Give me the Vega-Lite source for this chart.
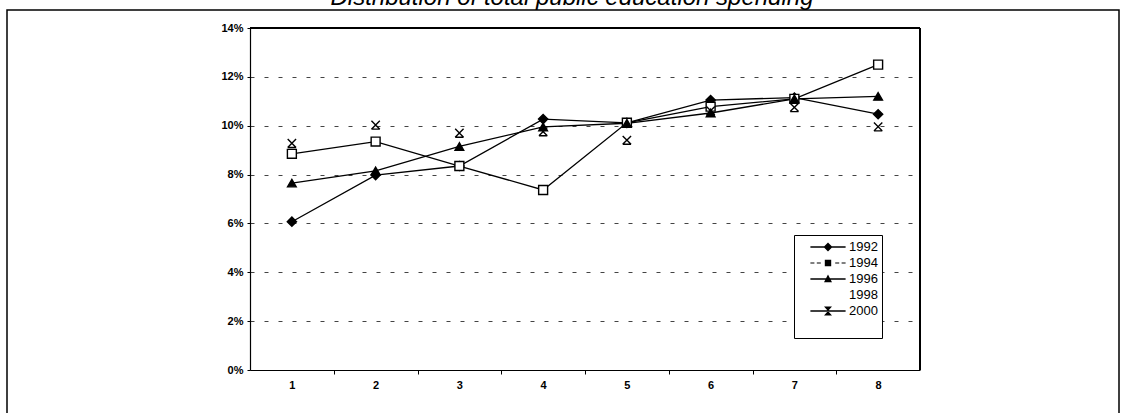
{
  "$schema": "https://vega.github.io/schema/vega-lite/v6.json",
  "width": 1112,
  "height": 415,
  "autosize": {"type": "none"},
  "padding": {"left": 7, "top": 10, "right": 6, "bottom": 0},
  "background": "white",
  "config": {"view": {"stroke": "black", "strokeWidth": 1.5, "fill": "white"}},
  "title": {"text": "Distribution of total public education spending", "font": "Liberation Sans", "fontSize": 24, "fontStyle": "italic", "fontWeight": "normal", "color": "black", "anchor": "middle", "baseline": "alphabetic", "offset": 3, "dx": 9, "dy": 22},
  "datasets": {
    "s": [
      {"year": "1992", "x": 1, "v": 0.0607}, {"year": "1992", "x": 2, "v": 0.0798}, {"year": "1992", "x": 3, "v": 0.0835}, {"year": "1992", "x": 4, "v": 0.1027},
      {"year": "1992", "x": 5, "v": 0.1012}, {"year": "1992", "x": 6, "v": 0.1105}, {"year": "1992", "x": 7, "v": 0.1115}, {"year": "1992", "x": 8, "v": 0.1047},
      {"year": "1994", "x": 1, "v": 0.0885}, {"year": "1994", "x": 2, "v": 0.0935}, {"year": "1994", "x": 3, "v": 0.0835}, {"year": "1994", "x": 4, "v": 0.0737},
      {"year": "1994", "x": 5, "v": 0.1012}, {"year": "1994", "x": 6, "v": 0.1078}, {"year": "1994", "x": 7, "v": 0.1110}, {"year": "1994", "x": 8, "v": 0.1250},
      {"year": "1996", "x": 1, "v": 0.0765}, {"year": "1996", "x": 2, "v": 0.0815}, {"year": "1996", "x": 3, "v": 0.0915}, {"year": "1996", "x": 4, "v": 0.0995},
      {"year": "1996", "x": 5, "v": 0.1010}, {"year": "1996", "x": 6, "v": 0.1052}, {"year": "1996", "x": 7, "v": 0.1110}, {"year": "1996", "x": 8, "v": 0.1120},
      {"year": "2000", "x": 1, "v": 0.0928}, {"year": "2000", "x": 2, "v": 0.1003}, {"year": "2000", "x": 3, "v": 0.0970}, {"year": "2000", "x": 4, "v": 0.0976},
      {"year": "2000", "x": 5, "v": 0.0941}, {"year": "2000", "x": 6, "v": 0.1062}, {"year": "2000", "x": 7, "v": 0.1075}, {"year": "2000", "x": 8, "v": 0.0996}
    ]
  },
  "data": {"name": "s"},
  "resolve": {"scale": {"shape": "independent"}, "axis": {"x": "independent"}},
  "layer": [
    {
      "mark": {"type": "rule", "color": "black", "strokeWidth": 1},
      "encoding": {
        "x": {"datum": 0.5, "type": "quantitative", "scale": {"domain": [0.5, 8.5], "range": [243, 913], "nice": false, "zero": false}, "axis": null},
        "x2": {"datum": 8.5},
        "y": {"datum": 0.14, "type": "quantitative", "scale": {"domain": [0, 0.14], "range": [360, 18], "nice": false, "zero": false}}
      }
    },
    {
      "mark": {"type": "rule", "color": "black", "strokeWidth": 1},
      "encoding": {
        "x": {"datum": 8.5, "type": "quantitative", "axis": {"orient": "bottom", "values": [1.5, 2.5, 3.5, 4.5, 5.5, 6.5, 7.5], "labels": false, "domain": false, "grid": false, "ticks": true, "tickSize": 4, "tickColor": "black", "tickWidth": 1, "title": null, "offset": -55}},
        "y": {"datum": 0, "type": "quantitative"},
        "y2": {"datum": 0.14}
      }
    },
    {
      "transform": [{"filter": "datum.year != '2000'"}],
      "mark": {"type": "line", "color": "black", "strokeWidth": 1.3},
      "encoding": {
        "x": {"field": "x", "type": "quantitative", "axis": {"orient": "bottom", "values": [1, 2, 3, 4, 5, 6, 7, 8], "format": "d", "title": null, "grid": false, "ticks": false, "domainColor": "black", "domainWidth": 1.2, "labelFont": "Liberation Sans", "labelFontSize": 11, "labelFontWeight": "bold", "labelColor": "black", "labelPadding": 9, "offset": -55}},
        "y": {"field": "v", "type": "quantitative", "axis": {"values": [0, 0.02, 0.04, 0.06, 0.08, 0.1, 0.12, 0.14], "format": ".0%", "title": null, "grid": true, "gridColor": "#444", "gridDash": [4, 10], "gridWidth": 1, "tickSize": 3, "tickColor": "black", "domainColor": "black", "domainWidth": 1.2, "labelFont": "Liberation Sans", "labelFontSize": 11, "labelFontWeight": "bold", "labelColor": "black", "labelPadding": 4, "offset": -243}},
        "detail": {"field": "year", "type": "nominal"}
      }
    },
    {
      "mark": {"type": "point", "filled": true, "stroke": "black", "strokeWidth": 1.4, "opacity": 1},
      "encoding": {
        "x": {"field": "x", "type": "quantitative", "axis": null},
        "y": {"field": "v", "type": "quantitative"},
        "shape": {"field": "year", "type": "nominal", "scale": {"domain": ["1992", "1994", "1996", "2000"], "range": ["diamond", "square", "triangle-up", "M-1,-1L1,1M1,-1L-1,1M-1,1H1"]}, "legend": null},
        "fill": {"field": "year", "type": "nominal", "scale": {"domain": ["1992", "1994", "1996", "2000"], "range": ["black", "white", "black", "black"]}, "legend": null},
        "size": {"field": "year", "type": "nominal", "scale": {"domain": ["1992", "1994", "1996", "2000"], "range": [85, 70, 55, 20]}, "legend": null}
      }
    },
    {
      "transform": [{"filter": "datum.year == 'none'"}],
      "mark": {"type": "point", "filled": true, "color": "black"},
      "encoding": {
        "x": {"field": "x", "type": "quantitative", "axis": null},
        "y": {"field": "v", "type": "quantitative"},
        "shape": {
          "field": "year", "type": "nominal",
          "scale": {"domain": ["1992", "1994", "1996", "1998", "2000", " "], "range": [
            "M-2.2,-0.09H2.2V0.09H-2.2Z M0,-0.56L0.56,0L0,0.56L-0.56,0Z",
            "M-2.2,-0.07H-1.7V0.07H-2.2Z M-1.4,-0.07H-0.9V0.07H-1.4Z M0.9,-0.07H1.4V0.07H0.9Z M1.7,-0.07H2.2V0.07H1.7Z M-0.4,-0.4H0.4V0.4H-0.4Z",
            "M-2.2,-0.09H2.2V0.09H-2.2Z M0,-0.55L0.5,0.4L-0.5,0.4Z",
            "M0,0Z",
            "M-2.2,-0.09H2.2V0.09H-2.2Z M-0.5,-0.55L0.5,-0.55L-0.5,0.55L0.5,0.55Z",
            "M0,0Z"
          ]},
          "legend": {"orient": "none", "legendX": 787, "legendY": 225, "title": null, "strokeColor": "black", "fillColor": "white", "padding": 4, "rowPadding": 1, "symbolSize": 256, "symbolOffset": 22, "labelOffset": 13, "labelFont": "Liberation Sans", "labelFontSize": 13, "labelColor": "black", "symbolFillColor": "black", "symbolStrokeColor": "black", "symbolStrokeWidth": 0, "symbolOpacity": 1}
        }
      }
    }
  ]
}
